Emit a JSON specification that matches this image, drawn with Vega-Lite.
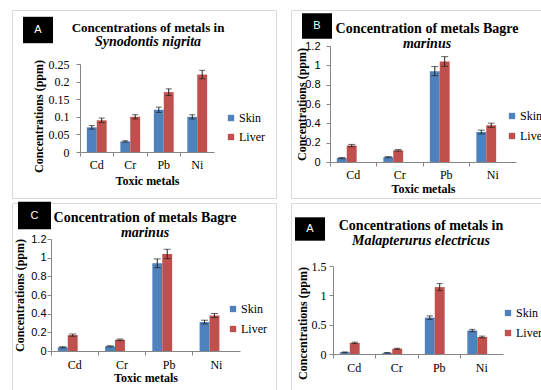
{
  "$schema": "https://vega.github.io/schema/vega-lite/v6.json",
  "background": "white",
  "padding": {"left": 11, "top": 9, "right": 0, "bottom": 0},
  "datasets": {
    "sn": [
      {"metal": "Cd", "tissue": "Skin", "value": 0.07, "err": 0.005},
      {"metal": "Cr", "tissue": "Skin", "value": 0.03, "err": 0.002},
      {"metal": "Pb", "tissue": "Skin", "value": 0.12, "err": 0.0075},
      {"metal": "Ni", "tissue": "Skin", "value": 0.10, "err": 0.006},
      {"metal": "Cd", "tissue": "Liver", "value": 0.09, "err": 0.0065},
      {"metal": "Cr", "tissue": "Liver", "value": 0.10, "err": 0.006},
      {"metal": "Pb", "tissue": "Liver", "value": 0.17, "err": 0.0095},
      {"metal": "Ni", "tissue": "Liver", "value": 0.22, "err": 0.012}
    ],
    "bm": [
      {"metal": "Cd", "tissue": "Skin", "value": 0.04, "err": 0.006},
      {"metal": "Cr", "tissue": "Skin", "value": 0.05, "err": 0.006},
      {"metal": "Pb", "tissue": "Skin", "value": 0.94, "err": 0.047},
      {"metal": "Ni", "tissue": "Skin", "value": 0.31, "err": 0.02},
      {"metal": "Cd", "tissue": "Liver", "value": 0.17, "err": 0.012},
      {"metal": "Cr", "tissue": "Liver", "value": 0.12, "err": 0.008},
      {"metal": "Pb", "tissue": "Liver", "value": 1.04, "err": 0.05},
      {"metal": "Ni", "tissue": "Liver", "value": 0.38, "err": 0.022}
    ],
    "me": [
      {"metal": "Cd", "tissue": "Skin", "value": 0.03, "err": 0.005},
      {"metal": "Cr", "tissue": "Skin", "value": 0.02, "err": 0.004},
      {"metal": "Pb", "tissue": "Skin", "value": 0.62, "err": 0.03},
      {"metal": "Ni", "tissue": "Skin", "value": 0.40, "err": 0.02},
      {"metal": "Cd", "tissue": "Liver", "value": 0.19, "err": 0.012},
      {"metal": "Cr", "tissue": "Liver", "value": 0.09, "err": 0.008},
      {"metal": "Pb", "tissue": "Liver", "value": 1.14, "err": 0.06},
      {"metal": "Ni", "tissue": "Liver", "value": 0.29, "err": 0.015}
    ]
  },
  "columns": 2,
  "spacing": {"row": 5, "column": 15},
  "bounds": "flush",
  "align": "all",
  "resolve": {"scale": {"color": "independent", "opacity": "independent", "x": "independent", "y": "independent"}, "legend": {"color": "independent", "opacity": "independent"}},
  "concat": [
    {
      "width": 264, "height": 188,
      "title": {"text": "Concentrations of metals in", "subtitle": "Synodontis nigrita", "fontSize": 13, "subtitleFontSize": 14, "subtitlePadding": 0, "offset": -39, "dx": 4},
      "data": {"name": "sn"},
      "encoding": {
        "x": {"field": "metal", "type": "nominal", "sort": ["Cd", "Cr", "Pb", "Ni"], "scale": {"range": [68, 202], "paddingInner": 0, "paddingOuter": 0}, "axis": {"title": "Toxic metals", "offset": -46, "labelPadding": 3, "titlePadding": 5, "labelFont": "Liberation Serif", "titleFont": "Liberation Serif"}},
        "xOffset": {"field": "tissue", "type": "nominal", "sort": ["Skin", "Liver"], "scale": {"paddingInner": 0, "paddingOuter": 0.69}},
        "y": {"field": "value", "type": "quantitative", "scale": {"domain": [0, 0.25], "range": [142, 54]}, "axis": {"title": "Concentrations (ppm)", "offset": -68, "values": [0, 0.05, 0.1, 0.15, 0.2, 0.25], "format": "~g", "labelPadding": 7, "titlePadding": 3, "titleY": 106, "labelFont": "Liberation Serif", "titleFont": "Liberation Serif"}}
      },
      "layer": [
        {
          "mark": {"type": "bar"},
          "encoding": {
            "color": {"field": "tissue", "type": "nominal", "scale": {"domain": ["Skin", "Liver"], "range": ["#4F81BD", "#C0504D"]}, "legend": {"title": null, "orient": "none", "legendX": 213, "legendY": 102, "symbolType": "square", "symbolSize": 40, "rowPadding": 7, "labelOffset": 2}},
            "opacity": {"datum": "A", "type": "nominal", "scale": {"range": [1]}, "legend": {"title": null, "orient": "none", "legendX": 10, "legendY": 4, "symbolType": "M-1,-0.88H1V0.88H-1Z", "symbolSize": 900, "labelAlign": "center", "labelOffset": -16, "labelColor": "#fff", "labelFont": "Liberation Sans", "labelFontSize": 11, "encode": {"symbols": {"update": {"size": {"value": 900}, "fill": {"value": "#000"}, "stroke": {"value": "#41679A"}, "strokeWidth": {"value": 2}, "opacity": {"value": 1}}}}}}
          }
        },
        {
          "mark": {"type": "errorbar", "ticks": {"size": 6}, "color": "#222"},
          "encoding": {"yError": {"field": "err"}}
        }
      ]
    },
    {
      "width": 264, "height": 188,
      "title": {"text": "Concentration of metals Bagre", "subtitle": "marinus", "fontSize": 14, "subtitleFontSize": 14, "offset": -41, "dx": 4},
      "data": {"name": "bm"},
      "encoding": {
        "x": {"field": "metal", "type": "nominal", "sort": ["Cd", "Cr", "Pb", "Ni"], "scale": {"range": [39, 225], "paddingInner": 0, "paddingOuter": 0}, "axis": {"title": "Toxic metals", "offset": -36, "labelPadding": 3, "titlePadding": 3, "labelFont": "Liberation Serif", "titleFont": "Liberation Serif"}},
        "xOffset": {"field": "tissue", "type": "nominal", "sort": ["Skin", "Liver"], "scale": {"paddingInner": 0, "paddingOuter": 0.79}},
        "y": {"field": "value", "type": "quantitative", "scale": {"domain": [0, 1.2], "range": [152, 36]}, "axis": {"title": "Concentrations (ppm)", "offset": -39, "values": [0, 0.2, 0.4, 0.6, 0.8, 1, 1.2], "format": "~g", "labelFont": "Liberation Sans", "labelFontSize": 11, "labelPadding": 6, "titlePadding": -4, "titleFont": "Liberation Serif"}}
      },
      "layer": [
        {
          "mark": {"type": "bar"},
          "encoding": {
            "color": {"field": "tissue", "type": "nominal", "scale": {"domain": ["Skin", "Liver"], "range": ["#4F81BD", "#C0504D"]}, "legend": {"title": null, "orient": "none", "legendX": 215, "legendY": 100, "symbolType": "square", "symbolSize": 40, "rowPadding": 8, "labelOffset": 2}},
            "opacity": {"datum": "B", "type": "nominal", "scale": {"range": [1]}, "legend": {"title": null, "orient": "none", "legendX": 10, "legendY": 0, "symbolType": "M-1,-0.85H1V0.85H-1Z", "symbolSize": 900, "labelAlign": "center", "labelOffset": -16, "labelColor": "#fff", "labelFont": "Liberation Sans", "labelFontSize": 11, "encode": {"symbols": {"update": {"size": {"value": 900}, "fill": {"value": "#000"}, "stroke": {"value": "#41679A"}, "strokeWidth": {"value": 2}, "opacity": {"value": 1}}}}}}
          }
        },
        {
          "mark": {"type": "errorbar", "ticks": {"size": 7}, "color": "#222"},
          "encoding": {"yError": {"field": "err"}}
        }
      ]
    },
    {
      "width": 264, "height": 188,
      "title": {"text": "Concentration of metals Bagre", "subtitle": "marinus", "fontSize": 14, "subtitleFontSize": 14, "offset": -42, "dx": 1},
      "data": {"name": "bm"},
      "encoding": {
        "x": {"field": "metal", "type": "nominal", "sort": ["Cd", "Cr", "Pb", "Ni"], "scale": {"range": [39, 228], "paddingInner": 0, "paddingOuter": 0}, "axis": {"title": "Toxic metals", "offset": -40, "labelPadding": 4, "titlePadding": 2, "labelFont": "Liberation Serif", "titleFont": "Liberation Serif"}},
        "xOffset": {"field": "tissue", "type": "nominal", "sort": ["Skin", "Liver"], "scale": {"paddingInner": 0, "paddingOuter": 0.82}},
        "y": {"field": "value", "type": "quantitative", "scale": {"domain": [0, 1.2], "range": [148, 36]}, "axis": {"title": "Concentrations (ppm)", "offset": -39, "values": [0, 0.2, 0.4, 0.6, 0.8, 1, 1.2], "format": "~g", "labelFont": "Liberation Sans", "labelFontSize": 11, "labelPadding": 1, "titlePadding": 4, "titleFont": "Liberation Serif"}}
      },
      "layer": [
        {
          "mark": {"type": "bar"},
          "encoding": {
            "color": {"field": "tissue", "type": "nominal", "scale": {"domain": ["Skin", "Liver"], "range": ["#4F81BD", "#C0504D"]}, "legend": {"title": null, "orient": "none", "legendX": 215, "legendY": 100, "symbolType": "square", "symbolSize": 40, "rowPadding": 8, "labelOffset": 2}},
            "opacity": {"datum": "C", "type": "nominal", "scale": {"range": [1]}, "legend": {"title": null, "orient": "none", "legendX": 5, "legendY": -5, "symbolType": "M-1,-0.83H1V0.83H-1Z", "symbolSize": 1089, "labelAlign": "center", "labelOffset": -17.5, "labelColor": "#fff", "labelFont": "Liberation Sans", "labelFontSize": 11, "encode": {"symbols": {"update": {"size": {"value": 1089}, "fill": {"value": "#000"}, "stroke": {"value": "#41679A"}, "strokeWidth": {"value": 2}, "opacity": {"value": 1}}}}}}
          }
        },
        {
          "mark": {"type": "errorbar", "ticks": {"size": 7}, "color": "#222"},
          "encoding": {"yError": {"field": "err"}}
        }
      ]
    },
    {
      "width": 264, "height": 188,
      "title": {"text": "Concentrations of metals in", "subtitle": "Malapterurus electricus", "fontSize": 14, "subtitleFontSize": 14, "offset": -45, "dx": -2},
      "data": {"name": "me"},
      "encoding": {
        "x": {"field": "metal", "type": "nominal", "sort": ["Cd", "Cr", "Pb", "Ni"], "scale": {"range": [42, 212], "paddingInner": 0, "paddingOuter": 0}, "axis": {"title": null, "offset": -37, "labelPadding": 4, "labelFont": "Liberation Serif"}},
        "xOffset": {"field": "tissue", "type": "nominal", "sort": ["Skin", "Liver"], "scale": {"paddingInner": 0, "paddingOuter": 0.77}},
        "y": {"field": "value", "type": "quantitative", "scale": {"domain": [0, 1.5], "range": [151, 63]}, "axis": {"title": "Concentrations (ppm)", "offset": -42, "values": [0, 0.5, 1, 1.5], "format": "~g", "labelPadding": 3, "titlePadding": 2, "titleY": 120, "labelFont": "Liberation Serif", "titleFont": "Liberation Serif"}}
      },
      "layer": [
        {
          "mark": {"type": "bar"},
          "encoding": {
            "color": {"field": "tissue", "type": "nominal", "scale": {"domain": ["Skin", "Liver"], "range": ["#4F81BD", "#C0504D"]}, "legend": {"title": null, "orient": "none", "legendX": 211, "legendY": 104, "symbolType": "square", "symbolSize": 40, "rowPadding": 8, "labelOffset": 2}},
            "opacity": {"datum": "A", "type": "nominal", "scale": {"range": [1]}, "legend": {"title": null, "orient": "none", "legendX": 3, "legendY": 10, "symbolType": "M-1,-0.78H1V0.78H-1Z", "symbolSize": 900, "labelAlign": "center", "labelOffset": -16, "labelColor": "#fff", "labelFont": "Liberation Sans", "labelFontSize": 11, "encode": {"symbols": {"update": {"size": {"value": 900}, "fill": {"value": "#000"}, "stroke": {"value": "#41679A"}, "strokeWidth": {"value": 2}, "opacity": {"value": 1}}}}}}
          }
        },
        {
          "mark": {"type": "errorbar", "ticks": {"size": 6}, "color": "#222"},
          "encoding": {"yError": {"field": "err"}}
        }
      ]
    }
  ],
  "config": {
    "view": {"stroke": "#d9d9d9", "strokeWidth": 1},
    "font": "Liberation Serif",
    "axis": {"grid": false, "domainColor": "#868686", "tickColor": "#868686", "tickSize": 4, "labelFont": "Liberation Serif", "labelFontSize": 12, "labelColor": "#000", "titleFont": "Liberation Serif", "titleFontSize": 12, "titleFontWeight": "bold", "titleColor": "#000"},
    "axisX": {"labelAngle": 0, "bandPosition": 0},
    "title": {"font": "Liberation Serif", "fontWeight": "bold", "color": "#000", "subtitleFont": "Liberation Serif", "subtitleFontStyle": "italic", "subtitleFontWeight": "bold", "subtitleColor": "#000", "anchor": "middle", "subtitlePadding": 1},
    "legend": {"padding": 0, "labelFont": "Liberation Serif", "labelFontSize": 12, "labelColor": "#000"}
  }
}
